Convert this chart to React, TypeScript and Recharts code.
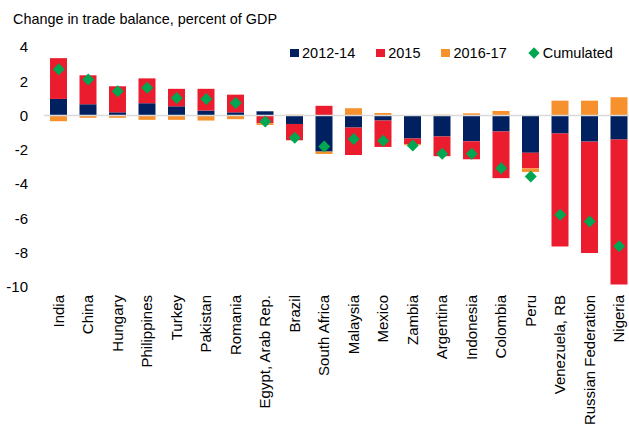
import { ComposedChart, Bar, Scatter, XAxis, YAxis, ReferenceLine } from 'recharts';

const countries = [
  'India', 'China', 'Hungary', 'Philippines', 'Turkey', 'Pakistan', 'Romania',
  'Egypt, Arab Rep.', 'Brazil', 'South Africa', 'Malaysia', 'Mexico', 'Zambia',
  'Argentina', 'Indonesia', 'Colombia', 'Peru', 'Venezuela, RB', 'Russian Federation', 'Nigeria',
];
const y2012_14 = [0.97, 0.66, 0.19, 0.72, 0.54, 0.29, 0.19, 0.25, -0.49, -2.1, -0.7, -0.29, -1.34, -1.22, -1.5, -0.93, -2.17, -1.05, -1.52, -1.4];
const y2015 = [2.38, 1.69, 1.52, 1.45, 1.02, 1.27, 1.03, -0.45, -0.95, 0.57, -1.6, -1.54, -0.33, -1.15, -1.05, -2.72, -0.91, -6.59, -6.49, -8.46];
const y2016_17 = [-0.33, -0.13, -0.13, -0.25, -0.25, -0.29, -0.21, -0.1, 0.05, -0.14, 0.43, 0.15, -0.06, 0.05, 0.13, 0.27, -0.21, 0.87, 0.87, 1.07];
const cumulated = [2.7, 2.1, 1.42, 1.62, 1.03, 0.97, 0.74, -0.35, -1.3, -1.8, -1.36, -1.47, -1.75, -2.23, -2.23, -3.07, -3.55, -5.79, -6.18, -7.62];
const yTicks = [4, 2, 0, -2, -4, -6, -8, -10];

const NAVY = '#002060';
const RED = '#ea1c2d';
const ORANGE = '#f7912d';
const GREEN = '#00a651';

const data = countries.map((name, i) => ({
  name,
  a: y2012_14[i],
  b: y2015[i],
  c: y2016_17[i],
  cum: cumulated[i],
}));

const font = '"Liberation Sans", Arial, sans-serif';

const CountryTick = (props: any) => {
  const { x, y, payload } = props;
  return (
    <text
      x={x}
      y={y}
      transform={`rotate(-90, ${x}, ${y})`}
      textAnchor="end"
      dy={5}
      fontSize={15}
      fontFamily={font}
      fill="#000"
    >
      {payload.value}
    </text>
  );
};

const Diamond = (props: any) => {
  const { cx, cy } = props;
  const r = 6;
  return <polygon points={`${cx},${cy - r} ${cx + r},${cy} ${cx},${cy + r} ${cx - r},${cy}`} fill={GREEN} />;
};

const legendItems = [
  { label: '2012-14', color: NAVY, kind: 'box' },
  { label: '2015', color: RED, kind: 'box' },
  { label: '2016-17', color: ORANGE, kind: 'box' },
  { label: 'Cumulated', color: GREEN, kind: 'diamond' },
];

const LegendBox = () => (
  <div style={{ position: 'absolute', left: 290, top: 45, display: 'flex', alignItems: 'center', whiteSpace: 'nowrap', fontFamily: font, fontSize: 14.5, color: '#000' }}>
    {legendItems.map((it) => (
      <div key={it.label} style={{ display: 'flex', alignItems: 'center', marginRight: 21 }}>
        {it.kind === 'box' ? (
          <span style={{ width: 9, height: 8, background: it.color, marginRight: 3, display: 'inline-block' }} />
        ) : (
          <span style={{ width: 8, height: 8, background: it.color, marginRight: 5, marginLeft: 2, display: 'inline-block', transform: 'rotate(45deg)' }} />
        )}
        <span>{it.label}</span>
      </div>
    ))}
  </div>
);

export default function App() {
  return (
    <div style={{ position: 'fixed', left: 0, top: 0, width: 629, height: 426, overflow: 'hidden', background: '#fff' }}>
      <div style={{ position: 'absolute', left: 13, top: 11, fontFamily: font, fontSize: 14.4, color: '#000' }}>
        Change in trade balance, percent of GDP
      </div>
      <ComposedChart
        width={634}
        height={426}
        data={data}
        stackOffset="sign"
        margin={{ top: 47, right: 0, bottom: 0, left: 0 }}
      >
        <ReferenceLine y={0} stroke="#d9d9d9" strokeWidth={1.5} />
        <XAxis
          dataKey="name"
          interval={0}
          height={139}
          axisLine={false}
          tickLine={false}
          tick={<CountryTick />}
        />
        <YAxis
          width={44}
          domain={[-10, 4]}
          ticks={yTicks}
          interval={0}
          axisLine={false}
          tickLine={false}
          tickMargin={10}
          tick={{ fontSize: 15, fontFamily: font, fill: '#000' }}
        />
        <Bar dataKey="a" name="2012-14" stackId="s" fill={NAVY} barSize={17} isAnimationActive={false} />
        <Bar dataKey="b" name="2015" stackId="s" fill={RED} barSize={17} isAnimationActive={false} />
        <Bar dataKey="c" name="2016-17" stackId="s" fill={ORANGE} barSize={17} isAnimationActive={false} />
        <Scatter dataKey="cum" name="Cumulated" fill={GREEN} shape={<Diamond />} isAnimationActive={false} />
      </ComposedChart>
      <LegendBox />
    </div>
  );
}
